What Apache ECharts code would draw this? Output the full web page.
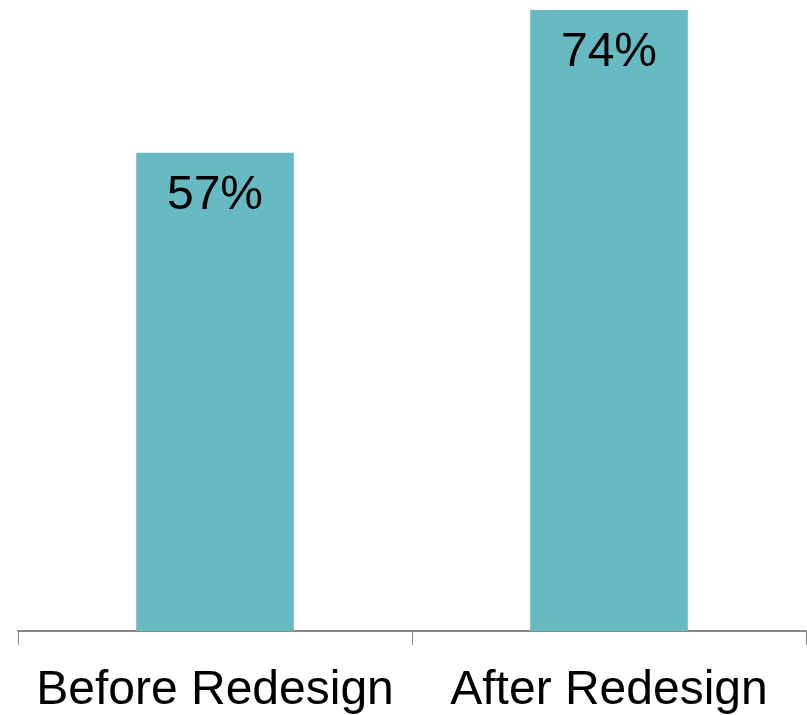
<!DOCTYPE html>
<html><head><meta charset="utf-8">
<script src="https://cdn.jsdelivr.net/npm/echarts@6/dist/echarts.min.js"></script>
<style>html,body{margin:0;padding:0;background:#fff}#c{width:807px;height:715px}</style>
</head><body><div id="c"></div>
<script>
const categories = ["Before Redesign", "After Redesign"];
const values = [57, 74];
const chart = echarts.init(document.getElementById('c'));
chart.setOption({
  animation: false,
  grid: {left: 18, right: 1, top: 10, bottom: 82, containLabel: false},
  xAxis: {
    type: 'category', data: categories,
    axisLine: {lineStyle: {color: '#888', width: 2}},
    axisTick: {show: true, interval: 0, length: 14, lineStyle: {color: '#888', width: 1}},
    axisLabel: {interval: 0, hideOverlap: false, color: '#000', fontSize: 48, fontFamily: 'Liberation Sans', margin: 36}
  },
  yAxis: {type: 'value', min: 0, max: 74, show: false, splitLine: {show: false}},
  series: [{
    type: 'bar', data: values, barWidth: '40%',
    itemStyle: {color: '#67B9C2'},
    label: {show: true, position: 'insideTop', distance: 19, color: '#000', fontSize: 48,
      fontFamily: 'Liberation Sans', formatter: p => p.value + '%'}
  }]
});
</script></body></html>
